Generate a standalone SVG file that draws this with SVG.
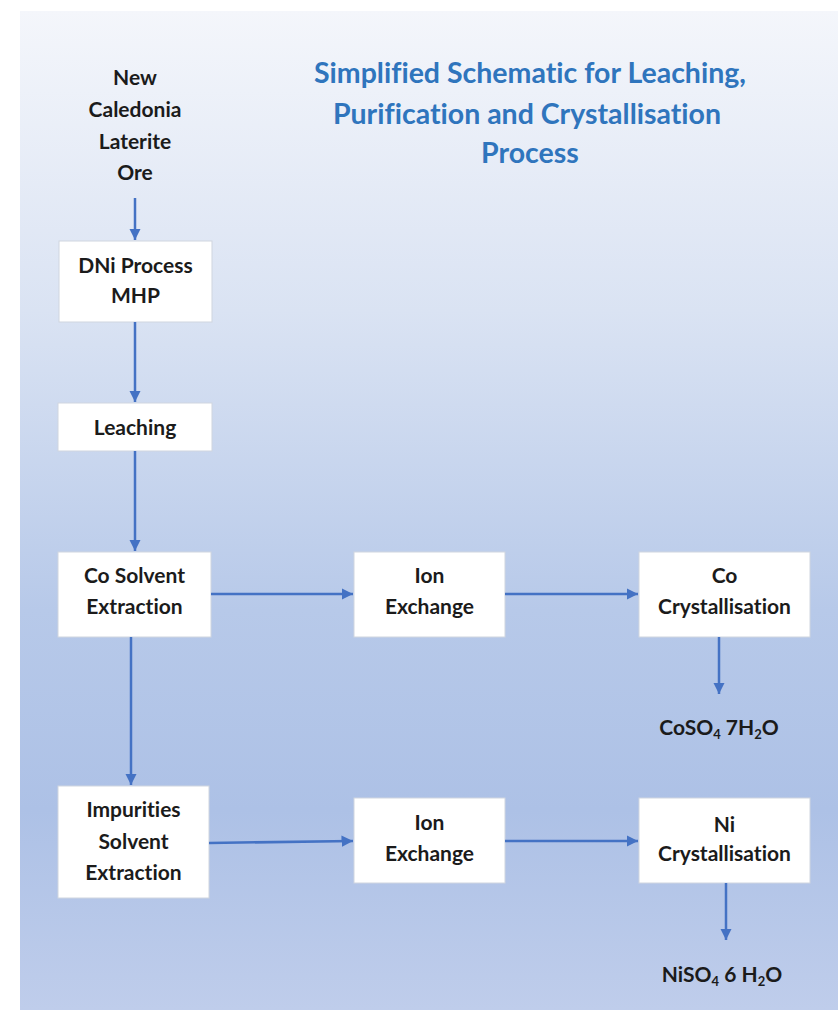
<svg xmlns="http://www.w3.org/2000/svg" width="838" height="1010" viewBox="0 0 838 1010">
<defs>
<linearGradient id="bg" x1="0" y1="0" x2="0" y2="1">
<stop offset="0" stop-color="#f4f6fb"/>
<stop offset="0.3" stop-color="#dae3f3"/>
<stop offset="0.6" stop-color="#b7c9e9"/>
<stop offset="0.8" stop-color="#adc1e6"/>
<stop offset="1" stop-color="#bfcdeb"/>
</linearGradient>
<marker id="ah" viewBox="0 0 10 10" refX="10" refY="5" markerWidth="4.6" markerHeight="4.6" markerUnits="strokeWidth" orient="auto">
<path d="M0,0 L10,5 L0,10 z" fill="#4472c4"/>
</marker>
<style>
.box{fill:#ffffff;stroke:#cfd5df;stroke-width:1}
.t{font-family:Lato,"Open Sans",sans-serif;font-weight:bold;font-size:21px;fill:#1b1b1b;text-anchor:middle;font-variant-ligatures:none}
.title{font-family:Lato,"Open Sans",sans-serif;font-weight:bold;font-size:28.5px;fill:#2f75bd;text-anchor:middle;font-variant-ligatures:none}
.c{fill:none;stroke:#4472c4;stroke-width:2.5;marker-end:url(#ah)}
.sub{font-size:13px}
</style>
</defs>
<rect x="0" y="0" width="838" height="1010" fill="#ffffff"/>
<rect x="20" y="11" width="818" height="999" fill="url(#bg)"/>

<g id="title">
<text class="title" x="530" y="83">Simplified Schematic for Leaching,</text>
<text class="title" x="527" y="124">Purification and Crystallisation</text>
<text class="title" x="530" y="163">Process</text>
</g>

<g id="ore">
<text class="t" x="135" y="85">New</text>
<text class="t" x="135" y="117">Caledonia</text>
<text class="t" x="135" y="149">Laterite</text>
<text class="t" x="135" y="180">Ore</text>
</g>

<g id="dni">
<rect class="box" x="59" y="241" width="153" height="81"/>
<text class="t" x="135.5" y="273">DNi Process</text>
<text class="t" x="135.5" y="303">MHP</text>
</g>

<g id="leaching">
<rect class="box" x="58" y="403" width="154" height="48"/>
<text class="t" x="135" y="435">Leaching</text>
</g>

<g id="cosx">
<rect class="box" x="58" y="552" width="153" height="85"/>
<text class="t" x="134.5" y="583">Co Solvent</text>
<text class="t" x="134.5" y="614">Extraction</text>
</g>

<g id="ionex1">
<rect class="box" x="354" y="552" width="151" height="85"/>
<text class="t" x="429.5" y="583">Ion</text>
<text class="t" x="429.5" y="614">Exchange</text>
</g>

<g id="cocryst">
<rect class="box" x="639" y="552" width="171" height="85"/>
<text class="t" x="724.5" y="583">Co</text>
<text class="t" x="724.5" y="614">Crystallisation</text>
</g>

<g id="coso4">
<text class="t" x="719" y="735">CoSO<tspan class="sub" dy="4">4</tspan><tspan dy="-4"> 7H</tspan><tspan class="sub" dy="4">2</tspan><tspan dy="-4">O</tspan></text>
</g>

<g id="impsx">
<rect class="box" x="58" y="786" width="151" height="112"/>
<text class="t" x="133.5" y="817">Impurities</text>
<text class="t" x="133.5" y="849">Solvent</text>
<text class="t" x="133.5" y="880">Extraction</text>
</g>

<g id="ionex2">
<rect class="box" x="354" y="798" width="151" height="85"/>
<text class="t" x="429.5" y="830">Ion</text>
<text class="t" x="429.5" y="861">Exchange</text>
</g>

<g id="nicryst">
<rect class="box" x="639" y="798" width="171" height="85"/>
<text class="t" x="724.5" y="832">Ni</text>
<text class="t" x="724.5" y="861">Crystallisation</text>
</g>

<g id="niso4">
<text class="t" x="722" y="982">NiSO<tspan class="sub" dy="4">4</tspan><tspan dy="-4"> 6 H</tspan><tspan class="sub" dy="4">2</tspan><tspan dy="-4">O</tspan></text>
</g>

<g id="connectors">
<line class="c" x1="135" y1="198" x2="135" y2="240"/>
<line class="c" x1="135" y1="322" x2="135" y2="402"/>
<line class="c" x1="135" y1="451" x2="135" y2="551"/>
<line class="c" x1="131" y1="637" x2="131" y2="785"/>
<line class="c" x1="211" y1="594" x2="353" y2="594"/>
<line class="c" x1="505" y1="594" x2="638" y2="594"/>
<line class="c" x1="719" y1="637" x2="719" y2="694"/>
<line class="c" x1="209" y1="843" x2="353" y2="841"/>
<line class="c" x1="505" y1="841" x2="638" y2="841"/>
<line class="c" x1="726" y1="883" x2="726" y2="940"/>
</g>
</svg>
